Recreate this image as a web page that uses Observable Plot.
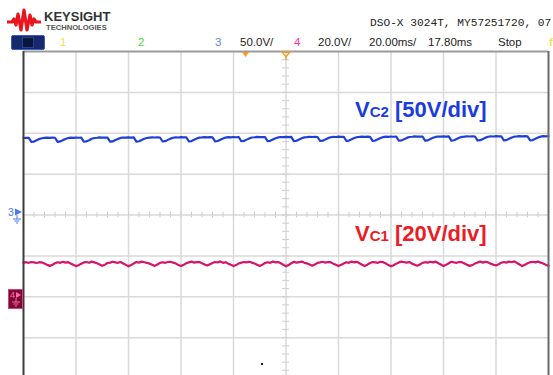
<!DOCTYPE html>
<html><head><meta charset="utf-8">
<script src="https://cdn.jsdelivr.net/npm/d3@7"></script>
<script src="https://cdn.jsdelivr.net/npm/@observablehq/plot@0.6"></script>
<style>
html,body{margin:0;padding:0;background:#fff;width:553px;height:375px;overflow:hidden;font-family:"Liberation Sans",Arial,sans-serif;}
#wrap{position:relative;width:553px;height:375px;overflow:hidden;background:#fff;}
#chart{position:absolute;left:0;top:0;}
.abs{position:absolute;white-space:nowrap;line-height:1;}
.row{top:37px;font-size:11.5px;color:#222;}
.lbl{font-weight:bold;font-size:22px;}
.lbl .sub{font-size:15px;}
</style></head><body>
<div id="wrap">
<div id="chart"></div>
<svg class="abs" style="left:7px;top:8px" width="34" height="26" viewBox="0 0 34 26">
  <path d="M0,14 L5,14 L7,11 L9,17 L11,6 L14,22 L17,2 L20,22 L23,7 L25,17 L27,11 L29,14 L34,14" fill="none" stroke="#e8141e" stroke-width="3.2" stroke-linejoin="round"/>
</svg>
<div class="abs" style="left:44px;top:10px;font-size:13px;font-weight:bold;color:#333;">KEYSIGHT</div>
<div class="abs" style="left:46px;top:24px;font-size:7.6px;font-weight:bold;color:#555;">TECHNOLOGIES</div>
<div class="abs" style="left:370px;top:18px;font-family:'Liberation Mono','DejaVu Sans Mono',monospace;font-size:11.2px;color:#222;">DSO-X 3024T, MY57251720, 07</div>
<div class="abs" style="left:11px;top:35px;width:32px;height:13px;background:#16296e;border:1px solid #3b5bc0;border-radius:2px;"></div>
<div class="abs" style="left:22px;top:37px;width:10px;height:9px;background:#0b163f;border:1px solid #2a3f8a;"></div>
<div class="abs row" style="left:60px;color:#f2e34a;">1</div>
<div class="abs row" style="left:138px;color:#4fd840;">2</div>
<div class="abs row" style="left:215px;color:#5f86ee;">3</div>
<div class="abs row" style="left:240px;">50.0V/</div>
<div class="abs row" style="left:294px;color:#ff2e9a;">4</div>
<div class="abs row" style="left:318px;">20.0V/</div>
<div class="abs row" style="left:369px;">20.00ms/</div>
<div class="abs row" style="left:428px;">17.80ms</div>
<div class="abs row" style="left:498px;">Stop</div>
<div class="abs row" style="left:549px;color:#f2e34a;font-weight:bold;">f</div>
<svg class="abs" style="left:240px;top:51px" width="55" height="10">
  <path d="M2,1 L9,1 L5.5,6 Z" fill="#f09a2a"/>
  <path d="M42,1 L50,1 L46,6 Z" fill="none" stroke="#f09a2a" stroke-width="1.3"/>
  <line x1="46" y1="6" x2="46" y2="9" stroke="#f09a2a" stroke-width="1.2"/>
</svg>
<svg class="abs" style="left:8px;top:206px" width="16" height="19">
  <text x="0" y="10" font-size="10.5" fill="#4a78ea" font-family="Liberation Sans, Arial">3</text>
  <path d="M7,2.5 L14,6 L7,9.5 Z" fill="#4a78ea"/>
  <line x1="9" y1="9" x2="9" y2="13" stroke="#4a78ea" stroke-width="1"/>
  <line x1="5" y1="13" x2="13" y2="13" stroke="#4a78ea" stroke-width="1"/>
  <line x1="6.5" y1="15" x2="11.5" y2="15" stroke="#4a78ea" stroke-width="1"/>
  <line x1="8" y1="17" x2="10" y2="17" stroke="#4a78ea" stroke-width="1"/>
</svg>
<svg class="abs" style="left:8px;top:289px" width="16" height="21">
  <rect x="0.5" y="0.5" width="14" height="19" fill="#7c0a35" stroke="#d0407a" stroke-width="1"/>
  <text x="2" y="9" font-size="9" fill="#ff6aa8" font-family="Liberation Sans, Arial">4</text>
  <path d="M8,3 L13,6 L8,9 Z" fill="#ff6aa8"/>
  <line x1="8" y1="9" x2="8" y2="13" stroke="#ff6aa8" stroke-width="1"/>
  <line x1="4" y1="13" x2="12" y2="13" stroke="#ff6aa8" stroke-width="1"/>
  <line x1="5.5" y1="15" x2="10.5" y2="15" stroke="#ff6aa8" stroke-width="1"/>
  <line x1="7" y1="17" x2="9" y2="17" stroke="#ff6aa8" stroke-width="1"/>
</svg>
<div class="abs" style="left:261px;top:363px;width:2px;height:2px;background:#222;"></div>
<div class="abs lbl" style="left:355px;top:99px;color:#1a3ce0;">V<span class="sub">C2</span> [50V/div]</div>
<div class="abs lbl" style="left:355px;top:223px;color:#ec1c24;">V<span class="sub">C1</span> [20V/div]</div>
</div>
<script>
// Timebase: 20 ms/div, 10 divisions; samples every 1 ms
const sampleMs = 1;
const timePerDiv = 20;
const hDivs = 10;
const vDivs = 8;

// Channel 3 (Vc2): 50 V/div, ground at centre line
const ch3VoltsPerDiv = 50;
const ch3OffsetDiv = 0;
// Channel 4 (Vc1): 20 V/div, ground marker ~2 div below centre
const ch4VoltsPerDiv = 20;
const ch4OffsetDiv = -2.05;

const vc2Volts = [
 94.2, 94.5, 94.3,
 89.4, 89.8, 91.4, 92.9, 93.9, 94.4, 94.7, 94.3, 94.6, 94.5,
 89.5, 90.0, 91.6, 93.0, 94.1, 94.6, 94.4, 94.8, 94.5, 94.7,
 89.6, 90.1, 91.5, 93.2, 94.2, 94.5, 94.9, 94.6, 94.8, 94.6,
 89.7, 90.0, 91.7, 93.1, 94.3, 94.8, 94.6, 95.0, 94.7, 94.9,
 89.8, 90.2, 91.8, 93.3, 94.2, 94.7, 95.0, 94.8, 95.1, 94.8,
 89.9, 90.3, 91.9, 93.4, 94.5, 95.0, 94.8, 95.2, 94.9, 95.1,
 90.0, 90.4, 92.0, 93.5, 94.6, 94.9, 95.3, 95.0, 95.2, 95.0,
 90.0, 90.5, 92.1, 93.6, 94.7, 95.2, 95.0, 95.4, 95.1, 95.3,
 90.2, 90.6, 92.2, 93.7, 94.8, 95.1, 95.5, 95.2, 95.4, 95.2,
 90.3, 90.7, 92.3, 93.8, 94.9, 95.4, 95.2, 95.6, 95.3, 95.5,
 90.4, 90.8, 92.4, 93.9, 95.0, 95.3, 95.7, 95.4, 95.6, 95.4,
 90.5, 90.9, 92.5, 94.0, 95.1, 95.6, 95.4, 95.8, 95.5, 95.7,
 90.6, 91.0, 92.6, 94.1, 95.2, 95.5, 95.9, 95.6, 95.8, 95.6,
 90.7, 91.1, 92.7, 94.2, 95.3, 95.8, 95.6, 96.0, 95.7, 95.9,
 90.8, 91.2, 92.8, 94.3, 95.4, 95.7, 96.1, 95.8, 96.0, 95.8,
 90.9, 91.3, 92.9, 94.4, 95.5, 96.0, 95.8, 96.2, 95.9, 96.1,
 91.0, 91.4, 93.0, 94.5, 95.6, 95.9, 96.3, 96.0, 96.2, 96.0,
 91.1, 91.5, 93.1, 94.6, 95.7, 96.2, 96.0, 96.4, 96.1, 96.3,
 91.2, 91.6, 93.2, 94.7, 95.8, 96.1, 96.5, 96.2, 96.4, 96.2,
 91.3, 91.7, 93.3, 94.8, 95.9, 96.4, 96.2, 96.6
];

const vc1Volts = [
 17.7, 17.9, 17.6, 18.0, 17.8, 17.5, 17.9, 17.8, 17.3, 16.6,
 16.1, 16.6, 17.4, 17.9, 17.6, 18.1, 17.7, 17.9, 17.2, 16.7,
 16.0, 16.4, 17.2, 17.8, 18.0, 17.6, 18.2, 17.8, 17.4, 16.8,
 16.2, 16.7, 17.5, 17.7, 18.1, 17.8, 17.6, 18.0, 17.3, 16.6,
 15.9, 16.5, 17.3, 18.0, 17.7, 18.2, 17.9, 17.6, 17.2, 16.7,
 16.1, 16.8, 17.6, 17.9, 17.6, 18.0, 18.1, 17.7, 17.3, 16.5,
 16.0, 16.6, 17.4, 17.8, 18.2, 17.7, 17.9, 18.0, 17.4, 16.8,
 16.3, 16.9, 17.5, 18.0, 17.8, 18.3, 17.6, 17.9, 17.2, 16.6,
 16.0, 16.5, 17.3, 17.7, 18.0, 17.8, 18.1, 17.7, 17.3, 16.7,
 16.1, 16.7, 17.5, 17.9, 17.6, 18.2, 17.8, 18.0, 17.4, 16.6,
 15.9, 16.5, 17.4, 18.1, 17.7, 17.9, 18.2, 17.6, 17.3, 16.8,
 16.2, 16.8, 17.6, 17.8, 18.1, 17.7, 18.0, 17.9, 17.2, 16.6,
 16.0, 16.6, 17.3, 17.9, 17.6, 18.2, 17.8, 18.1, 17.4, 16.7,
 16.1, 16.7, 17.5, 18.0, 17.8, 17.6, 18.1, 17.9, 17.3, 16.5,
 15.9, 16.4, 17.2, 17.8, 18.2, 17.9, 17.7, 18.0, 17.2, 16.7,
 16.2, 16.8, 17.6, 17.9, 17.7, 18.1, 17.8, 18.2, 17.4, 16.8,
 16.0, 16.6, 17.4, 18.1, 17.8, 17.6, 18.0, 17.9, 17.3, 16.6,
 16.1, 16.5, 17.3, 17.8, 18.2, 17.7, 18.1, 17.8, 17.2, 16.7,
 16.3, 16.9, 17.6, 18.0, 17.7, 18.2, 17.9, 18.3, 17.5, 16.8,
 16.0, 16.6, 17.4, 17.9, 18.1, 17.8, 18.2, 17.7, 17.3, 16.6,
 16.1
];

const tMax = timePerDiv * hDivs;
const vc2Data = vc2Volts.map((v, i) => ({t: i * sampleMs, div: ch3OffsetDiv + v / ch3VoltsPerDiv}));
const vc1Data = vc1Volts.map((v, i) => ({t: i * sampleMs, div: ch4OffsetDiv + v / ch4VoltsPerDiv}));

const gridT = d3.range(1, hDivs).map(i => i * timePerDiv);
const gridV = d3.range(-vDivs / 2 + 1, vDivs / 2);
const minorT = d3.range(0, hDivs * 5 + 1).map(i => i * timePerDiv / 5);
const minorV = d3.range(-vDivs / 2 * 5, vDivs / 2 * 5 + 1).map(i => i / 5);
const midT = tMax / 2;
const tickHalfT = 0.065 * timePerDiv;

const plot = Plot.plot({
  width: 553,
  height: 380,
  marginLeft: 23,
  marginRight: 5,
  marginTop: 51,
  marginBottom: 2,
  x: {domain: [0, tMax], axis: null},
  y: {domain: [-vDivs / 2, vDivs / 2], axis: null},
  style: {background: "transparent"},
  marks: [
    Plot.ruleX(gridT, {stroke: "#d9d9d9", strokeWidth: 1.5}),
    Plot.ruleY(gridV, {stroke: "#d9d9d9", strokeWidth: 1.5}),
    Plot.ruleX(minorT, {y1: -0.07, y2: 0.07, stroke: "#cfcfcf", strokeWidth: 1}),
    Plot.ruleY(minorV, {x1: midT - tickHalfT, x2: midT + tickHalfT, stroke: "#cfcfcf", strokeWidth: 1}),
    Plot.line(vc2Data, {x: "t", y: "div", stroke: "#1f3fd6", strokeWidth: 2.2}),
    Plot.line(vc1Data, {x: "t", y: "div", stroke: "#d6146b", strokeWidth: 2.2}),
    Plot.ruleY([vDivs / 2], {stroke: "#9a9a9a", strokeWidth: 2}),
    Plot.ruleX([0], {stroke: "#3c3c3c", strokeWidth: 2}),
    Plot.ruleX([tMax], {stroke: "#6a6a6a", strokeWidth: 2})
  ]
});
document.getElementById("chart").appendChild(plot);
</script>
</body></html>
